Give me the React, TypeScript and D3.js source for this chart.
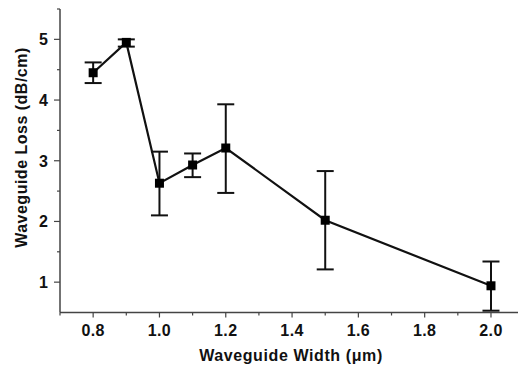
import React, { useEffect, useRef } from "react";
import * as d3 from "d3";

// widths (um) and measured loss (dB/cm) with error bounds
const widths = [0.8, 0.9, 1.0, 1.1, 1.2, 1.5, 2.0];
const losses = [4.45, 4.95, 2.63, 2.93, 3.21, 2.02, 0.94];
const errHigh = [4.62, 5.0, 3.15, 3.12, 3.93, 2.83, 1.34];
const errLow = [4.28, 4.88, 2.1, 2.73, 2.47, 1.21, 0.53];
const xTicks = [0.8, 1.0, 1.2, 1.4, 1.6, 1.8, 2.0];
const yTicks = [1, 2, 3, 4, 5];

const App = () => {
  const svgRef = useRef<SVGSVGElement>(null);

  useEffect(() => {
    const svg = d3.select(svgRef.current);
    svg.selectAll("*").remove();

    const left = 60;
    const right = 518;
    const top = 9;
    const bottom = 312.5;

    const x = d3.scaleLinear().domain([0.7, 2.0815]).range([left, right]);
    const y = d3.scaleLinear().domain([0.5, 5.5]).range([bottom, top]);

    const axisColor = "#444";
    const font = "Arial, 'Liberation Sans', sans-serif";

    // x axis
    const gx = svg.append("g").attr("transform", `translate(0,${bottom})`);
    gx.append("line")
      .attr("x1", left).attr("x2", right)
      .attr("stroke", axisColor).attr("stroke-width", 1.5);
    d3.range(0.7, 2.09, 0.1).forEach((v) => {
      const major = xTicks.some((t) => Math.abs(t - v) < 1e-6);
      gx.append("line")
        .attr("x1", x(v)).attr("x2", x(v))
        .attr("y1", 0).attr("y2", major ? 5 : 3)
        .attr("stroke", axisColor).attr("stroke-width", 1.2);
    });
    xTicks.forEach((t) => {
      gx.append("text")
        .attr("x", x(t)).attr("y", 23)
        .attr("text-anchor", "middle")
        .attr("font-family", font).attr("font-weight", "bold")
        .attr("font-size", 16).attr("letter-spacing", 0.4).attr("fill", "#111")
        .text(d3.format(".1f")(t));
    });

    // y axis
    const gy = svg.append("g").attr("transform", `translate(${left},0)`);
    gy.append("line")
      .attr("y1", top).attr("y2", bottom)
      .attr("stroke", axisColor).attr("stroke-width", 1.5);
    gy.append("line")
      .attr("x1", -3).attr("x2", 0).attr("y1", top).attr("y2", top)
      .attr("stroke", axisColor).attr("stroke-width", 1.2);
    d3.range(1, 5.01, 0.5).forEach((v) => {
      const major = Number.isInteger(v);
      gy.append("line")
        .attr("x1", major ? -6 : -3).attr("x2", 0)
        .attr("y1", y(v)).attr("y2", y(v))
        .attr("stroke", axisColor).attr("stroke-width", 1.2);
    });
    yTicks.forEach((t) => {
      gy.append("text")
        .attr("x", -12).attr("y", y(t))
        .attr("dy", "0.36em")
        .attr("text-anchor", "end")
        .attr("font-family", font).attr("font-weight", "bold")
        .attr("font-size", 16).attr("fill", "#111")
        .text(t);
    });

    // axis titles
    svg.append("text")
      .attr("x", 291).attr("y", 361)
      .attr("text-anchor", "middle")
      .attr("font-family", font).attr("font-weight", "bold")
      .attr("font-size", 16).attr("letter-spacing", 0.6).attr("fill", "#111")
      .text("Waveguide Width (μm)");
    svg.append("text")
      .attr("transform", `translate(27,147.5) rotate(-90)`)
      .attr("text-anchor", "middle")
      .attr("font-family", font).attr("font-weight", "bold")
      .attr("font-size", 16).attr("letter-spacing", 0.5).attr("fill", "#111")
      .text("Waveguide Loss (dB/cm)");

    // error bars
    const cap = 8.5;
    widths.forEach((w, i) => {
      const g = svg.append("g").attr("stroke", "#111").attr("stroke-width", 2);
      g.append("line")
        .attr("x1", x(w)).attr("x2", x(w))
        .attr("y1", y(errHigh[i])).attr("y2", y(errLow[i]));
      [errHigh[i], errLow[i]].forEach((e) => {
        g.append("line")
          .attr("x1", x(w) - cap).attr("x2", x(w) + cap)
          .attr("y1", y(e)).attr("y2", y(e));
      });
    });

    // line
    const line = d3.line<number>()
      .x((_, i) => x(widths[i]))
      .y((d) => y(d));
    svg.append("path")
      .attr("d", line(losses))
      .attr("fill", "none")
      .attr("stroke", "#111")
      .attr("stroke-width", 2.2);

    // square markers
    const s = 9;
    widths.forEach((w, i) => {
      svg.append("rect")
        .attr("x", x(w) - s / 2).attr("y", y(losses[i]) - s / 2)
        .attr("width", s).attr("height", s)
        .attr("fill", "#000");
    });
  }, []);

  return (
    <svg
      ref={svgRef}
      width={518}
      height={367}
      style={{ display: "block", position: "absolute", left: 0, top: 0, background: "#fff" }}
    />
  );
};

export default App;
